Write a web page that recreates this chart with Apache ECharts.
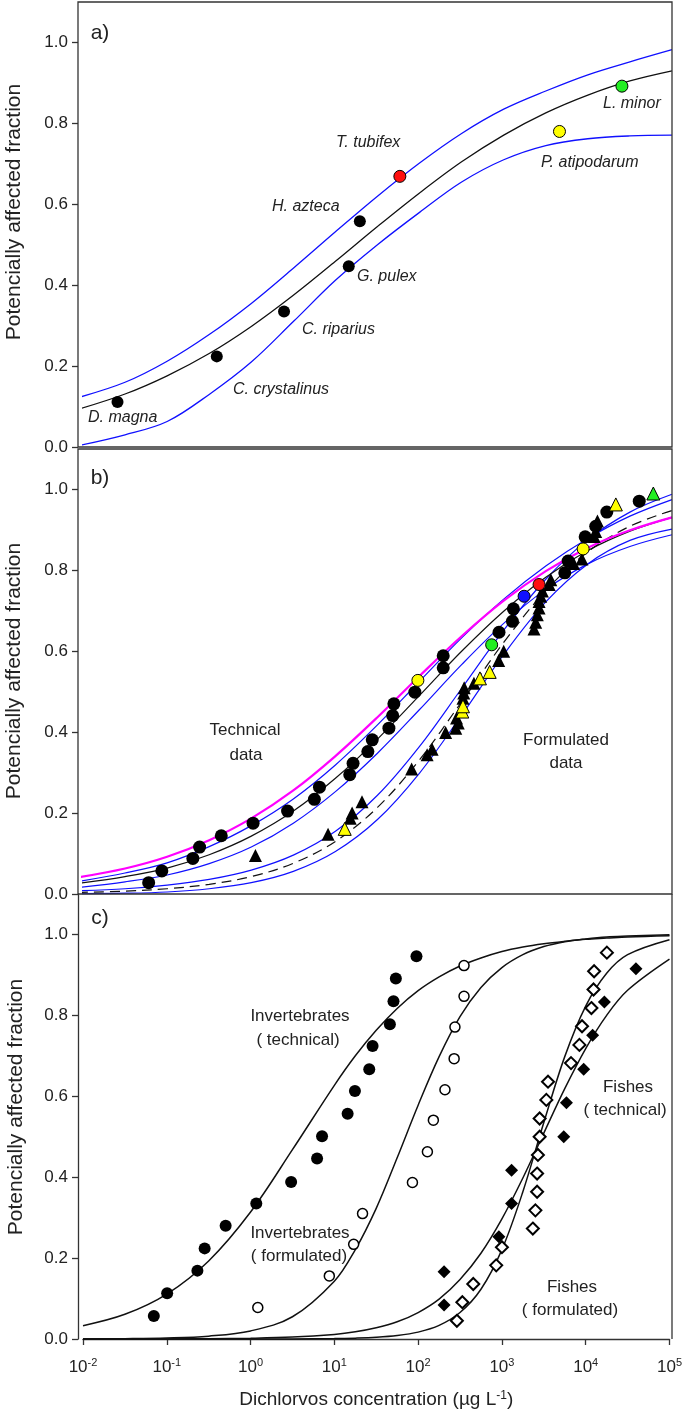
<!DOCTYPE html>
<html><head><meta charset="utf-8">
<script src="https://cdn.jsdelivr.net/npm/echarts@6/dist/echarts.min.js"></script>
<style>html,body{margin:0;padding:0;background:#fff}#c{width:685px;height:1421px}</style>
</head><body><div id="c"></div>
<script>
// ---------- DATA ----------
const yTicks = [0, 0.2, 0.4, 0.6, 0.8, 1.0];
// curve abscissae (µg/L) for panels a and b
const xsAB = [0.00871, 0.0316, 0.1, 0.316, 1, 3.16, 10, 31.6, 100, 316, 1000, 3162, 10000, 31623, 100000];
// panel a
const aFitY   = [0.093, 0.131, 0.176, 0.231, 0.298, 0.375, 0.459, 0.545, 0.628, 0.705, 0.771, 0.826, 0.870, 0.905, 0.930];
const aUpperY = [0.122, 0.160, 0.212, 0.278, 0.355, 0.442, 0.532, 0.620, 0.702, 0.775, 0.835, 0.880, 0.920, 0.952, 0.982];
const aLowerY = [0.003, 0.030, 0.063, 0.130, 0.210, 0.310, 0.412, 0.500, 0.580, 0.655, 0.710, 0.745, 0.762, 0.769, 0.771];
const aSpecies = ['D. magna', 'C. crystalinus', 'C. riparius', 'G. pulex', 'H. azteca', 'T. tubifex', 'P. atipodarum', 'L. minor'];
const aConc = [0.0257, 0.389, 2.45, 14.4, 19.5, 58.3, 4600, 25400];
const aPAF  = [0.111, 0.224, 0.335, 0.447, 0.558, 0.669, 0.780, 0.892];
// panel b curves
const bMagentaY = [0.041, 0.063, 0.092, 0.133, 0.187, 0.256, 0.341, 0.437, 0.539, 0.637, 0.725, 0.798, 0.856, 0.899, 0.931];
const bTechFitY = [0.026, 0.043, 0.064, 0.097, 0.143, 0.205, 0.286, 0.383, 0.491, 0.600, 0.699, 0.783, 0.849, 0.897, 0.931];
const bTechUpY  = [0.031, 0.052, 0.077, 0.117, 0.169, 0.235, 0.319, 0.418, 0.526, 0.633, 0.729, 0.811, 0.879, 0.934, 0.975];
const bTechLoY  = [0.016, 0.030, 0.047, 0.075, 0.116, 0.175, 0.253, 0.348, 0.456, 0.567, 0.669, 0.753, 0.816, 0.859, 0.888];
const bFormFitY = [0.004, 0.007, 0.013, 0.024, 0.043, 0.076, 0.130, 0.214, 0.332, 0.475, 0.622, 0.750, 0.846, 0.909, 0.948];
const bFormUpY  = [0.008, 0.013, 0.022, 0.036, 0.059, 0.096, 0.155, 0.244, 0.365, 0.508, 0.652, 0.778, 0.876, 0.944, 0.988];
const bFormLoY  = [0.001, 0.002, 0.005, 0.013, 0.028, 0.056, 0.105, 0.184, 0.299, 0.442, 0.592, 0.722, 0.816, 0.874, 0.902];
// panel b points
const bTechConc = [0.0603, 0.0865, 0.202, 0.243, 0.440, 1.05, 2.70, 5.62, 6.46, 14.8, 16.2, 24.3, 27.4, 43.2, 47.9, 49.5, 87.9, 191, 191, 879, 1268, 1303, 5320, 5830, 9290, 12400, 16800, 40800];
const bTechPAF  = [0.028, 0.057, 0.088, 0.116, 0.144, 0.175, 0.205, 0.234, 0.264, 0.295, 0.323, 0.352, 0.381, 0.410, 0.441, 0.470, 0.499, 0.559, 0.589, 0.647, 0.674, 0.705, 0.794, 0.823, 0.883, 0.909, 0.944, 0.971];
const bYellowCircConc = [95.5, 8790], bYellowCircPAF = [0.528, 0.853];
const bGreenCircConc = [719], bGreenCircPAF = [0.616];
const bBlueCircConc = [1746], bBlueCircPAF = [0.736];
const bRedCircConc = [2630], bRedCircPAF = [0.765];
const bFormConc = [1.12, 8.18, 15.0, 15.8, 20.7, 80.4, 123, 141, 204, 269, 288, 275, 328, 335, 339, 443, 871, 1000, 2290, 2400, 2510, 2630, 2630, 2750, 2880, 3470, 3630, 6760, 8510, 11900, 12400, 13000];
const bFormPAF  = [0.095, 0.148, 0.187, 0.200, 0.228, 0.309, 0.344, 0.358, 0.399, 0.410, 0.423, 0.435, 0.484, 0.497, 0.510, 0.521, 0.577, 0.600, 0.655, 0.672, 0.690, 0.707, 0.723, 0.736, 0.749, 0.765, 0.777, 0.817, 0.828, 0.884, 0.896, 0.922];
const bYellowTriConc = [12.9, 322, 328, 522, 681, 21500], bYellowTriPAF = [0.161, 0.451, 0.464, 0.533, 0.549, 0.963];
const bGreenTriConc = [60000], bGreenTriPAF = [0.990];
// panel c curves
const xsC = [0.01, 0.0316, 0.1, 0.316, 1, 3.16, 10, 17.8, 31.6, 56.2, 100, 178, 316, 562, 1000, 1778, 3162, 5623, 10000, 17783, 31623, 100000];
const cInvTechY  = [0.033, 0.061, 0.111, 0.193, 0.314, 0.468, 0.627, 0.700, 0.763, 0.817, 0.861, 0.895, 0.922, 0.942, 0.958, 0.969, 0.977, 0.983, 0.988, 0.991, 0.994, 0.997];
const cInvFormY  = [0.0003, 0.0009, 0.0025, 0.0071, 0.020, 0.055, 0.143, 0.221, 0.323, 0.448, 0.578, 0.698, 0.797, 0.869, 0.918, 0.950, 0.970, 0.982, 0.989, 0.994, 0.996, 0.999];
const cFishTechY = [0.0001, 0.0001, 0.0003, 0.0008, 0.0019, 0.0047, 0.0114, 0.0177, 0.0276, 0.0425, 0.0654, 0.0986, 0.147, 0.212, 0.297, 0.398, 0.509, 0.619, 0.718, 0.800, 0.862, 0.939];
const cFishFormY = [0, 0, 0, 0, 0.0001, 0.0003, 0.001, 0.0021, 0.0042, 0.0085, 0.017, 0.0336, 0.0654, 0.123, 0.221, 0.364, 0.535, 0.698, 0.823, 0.904, 0.950, 0.987];
// panel c points
const cInvTechConc = [0.070, 0.101, 0.232, 0.283, 0.504, 1.17, 3.05, 6.22, 7.13, 14.4, 17.6, 26.1, 28.6, 46.0, 50.8, 54.2, 95.5];
const cInvTechPAF  = [0.057, 0.113, 0.169, 0.224, 0.280, 0.335, 0.388, 0.446, 0.501, 0.557, 0.613, 0.667, 0.724, 0.778, 0.835, 0.891, 0.946];
const cInvFormConc = [1.22, 8.71, 17.0, 21.7, 85.5, 129, 152, 209, 269, 275, 353, 353];
const cInvFormPAF  = [0.078, 0.156, 0.234, 0.310, 0.387, 0.463, 0.541, 0.616, 0.693, 0.771, 0.847, 0.923];
const cFishTechConc = [204, 204, 920, 1303, 1303, 5470, 5890, 9460, 12100, 16700, 39800];
const cFishTechPAF  = [0.084, 0.166, 0.253, 0.335, 0.417, 0.500, 0.584, 0.667, 0.751, 0.833, 0.915];
const cFishFormConc = [290, 337, 455, 855, 1000, 2340, 2510, 2630, 2630, 2690, 2820, 2820, 3390, 3550, 6680, 8410, 9040, 11700, 12400, 12600, 17900];
const cFishFormPAF  = [0.045, 0.091, 0.136, 0.182, 0.227, 0.273, 0.318, 0.364, 0.409, 0.455, 0.500, 0.545, 0.591, 0.636, 0.682, 0.727, 0.773, 0.818, 0.864, 0.909, 0.955];

// ---------- CHART ----------
const FONT = '"Liberation Sans", Arial, sans-serif';
const TXT = '#222';
const pts = (xs, ys) => xs.map((x, i) => [x, ys[i]]);
const line = (g, xs, ys, color, width, type) => ({
  type: 'line', xAxisIndex: g, yAxisIndex: g, data: pts(xs, ys), showSymbol: false,
  smooth: 0.35, clip: false, silent: true, z: 2,
  lineStyle: { color: color, width: width, type: type || 'solid' }
});
const scat = (g, xs, ys, symbol, size, fill, border, bw) => ({
  type: 'scatter', xAxisIndex: g, yAxisIndex: g, data: pts(xs, ys), symbol: symbol,
  symbolSize: size, silent: true, z: 3,
  itemStyle: { color: fill, borderColor: border || fill, borderWidth: bw || 0, opacity: 1 }
});
const pick = (arr, idx) => idx.map(i => arr[i]);

const grids = [
  { left: 83, right: 13, top: 2, height: 445 },
  { left: 83, right: 13, top: 449, height: 445 },
  { left: 83, right: 13, top: 894, height: 445 }
];
const xAxes = [0, 1, 2].map(g => ({
  type: 'log', logBase: 10, gridIndex: g, min: 0.01, max: 100000,
  show: g === 2, splitLine: { show: false },
  axisLine: { show: true, lineStyle: { color: '#333', width: 1.3 } },
  axisTick: { show: true, inside: false, length: 6, lineStyle: { color: '#333', width: 1.3 } },
  minorTick: { show: false },
  axisLabel: {
    margin: 18, color: TXT,
    formatter: v => '{b|10}{s|' + Math.round(Math.log10(v)) + '}',
    rich: {
      b: { fontSize: 17, fontFamily: FONT, color: TXT, lineHeight: 20 },
      s: { fontSize: 11, fontFamily: FONT, color: TXT, verticalAlign: 'top', lineHeight: 12 }
    }
  },
  name: g === 2 ? 'Dichlorvos concentration (µg L{s|-1})' : '',
  nameLocation: 'middle', nameGap: 51,
  nameTextStyle: {
    fontSize: 19, fontFamily: FONT, color: TXT,
    rich: { s: { fontSize: 12, fontFamily: FONT, color: TXT, verticalAlign: 'top', lineHeight: 12 } }
  }
}));
const yAxes = [0, 1, 2].map(g => ({
  type: 'value', gridIndex: g, min: 0, max: 1.1, interval: 0.2, offset: 5,
  splitLine: { show: false },
  axisLine: { show: g === 2, lineStyle: { color: '#333', width: 1.3 } },
  axisTick: { show: true, length: 6, customValues: yTicks, lineStyle: { color: '#333', width: 1.3 } },
  axisLabel: { customValues: yTicks, margin: 10, fontSize: 17, fontFamily: FONT, color: TXT,
    formatter: v => v.toFixed(1) }
}));

const BLUE = '#1010ff';
const series = [
  // panel a
  line(0, xsAB, aUpperY, BLUE, 1.3),
  line(0, xsAB, aLowerY, BLUE, 1.3),
  line(0, xsAB, aFitY, '#111', 1.3),
  scat(0, pick(aConc, [0, 1, 2, 3, 4]), pick(aPAF, [0, 1, 2, 3, 4]), 'circle', 12, '#000'),
  scat(0, pick(aConc, [5]), pick(aPAF, [5]), 'circle', 12, '#ff1010', '#000', 1),
  scat(0, pick(aConc, [6]), pick(aPAF, [6]), 'circle', 12, '#ffff00', '#000', 1),
  scat(0, pick(aConc, [7]), pick(aPAF, [7]), 'circle', 12, '#22ee22', '#000', 1),
  // panel b
  line(1, xsAB, bFormUpY, BLUE, 1.2),
  line(1, xsAB, bFormLoY, BLUE, 1.2),
  line(1, xsAB, bFormFitY, '#111', 1.2, [10, 6]),
  line(1, xsAB, bTechUpY, BLUE, 1.2),
  line(1, xsAB, bTechLoY, BLUE, 1.2),
  line(1, xsAB, bTechFitY, '#111', 1.2),
  line(1, xsAB, bMagentaY, '#ff00ff', 2.2),
  scat(1, bFormConc, bFormPAF, 'triangle', 13, '#000'),
  scat(1, bTechConc, bTechPAF, 'circle', 13, '#000'),
  scat(1, bYellowTriConc, bYellowTriPAF, 'triangle', 13, '#ffff00', '#000', 1),
  scat(1, bGreenTriConc, bGreenTriPAF, 'triangle', 13, '#22ee22', '#000', 1),
  scat(1, bYellowCircConc, bYellowCircPAF, 'circle', 12, '#ffff00', '#000', 1),
  scat(1, bGreenCircConc, bGreenCircPAF, 'circle', 12, '#22ee22', '#000', 1),
  scat(1, bBlueCircConc, bBlueCircPAF, 'circle', 12, '#1010ff', '#000', 1),
  scat(1, bRedCircConc, bRedCircPAF, 'circle', 12, '#ff1010', '#000', 1),
  // panel c
  line(2, xsC, cInvTechY, '#111', 1.5),
  line(2, xsC, cInvFormY, '#111', 1.5),
  line(2, xsC, cFishTechY, '#111', 1.5),
  line(2, xsC, cFishFormY, '#111', 1.5),
  scat(2, cInvTechConc, cInvTechPAF, 'circle', 12, '#000'),
  scat(2, cInvFormConc, cInvFormPAF, 'circle', 10, '#fff', '#000', 1.5),
  scat(2, cFishTechConc, cFishTechPAF, 'diamond', 13, '#000'),
  scat(2, cFishFormConc, cFishFormPAF, 'diamond', 12, '#fff', '#000', 2)
];

const t = (x, y, text, opts) => Object.assign({
  type: 'text', x: x, y: y, silent: true, z: 10,
  style: Object.assign({ text: text, fill: TXT, font: '17px ' + FONT, textAlign: 'center', textVerticalAlign: 'middle' }, (opts && opts.style) || {})
}, (opts && opts.el) || {});
const it = (x, y, text) => t(x, y, text, { style: { font: 'italic 16px ' + FONT, textAlign: 'left' } });
const graphic = [
  { type: 'rect', shape: { x: 78, y: 2, width: 594, height: 445 }, style: { fill: 'none', stroke: '#333', lineWidth: 1.3 }, silent: true, z: 5 },
  { type: 'rect', shape: { x: 78, y: 449, width: 594, height: 445 }, style: { fill: 'none', stroke: '#333', lineWidth: 1.3 }, silent: true, z: 5 },
  { type: 'line', shape: { x1: 672, y1: 894, x2: 672, y2: 1339 }, style: { stroke: '#333', lineWidth: 1.3 }, silent: true, z: 5 },
  t(100, 33, 'a)', { style: { font: '21px ' + FONT } }),
  t(100, 478, 'b)', { style: { font: '21px ' + FONT } }),
  t(100, 918, 'c)', { style: { font: '21px ' + FONT } }),
  t(14, 212, 'Potencially affected fraction', { style: { font: '21px ' + FONT }, el: { rotation: Math.PI / 2 } }),
  t(14, 671, 'Potencially affected fraction', { style: { font: '21px ' + FONT }, el: { rotation: Math.PI / 2 } }),
  t(16, 1107, 'Potencially affected fraction', { style: { font: '21px ' + FONT }, el: { rotation: Math.PI / 2 } }),
  it(88, 418, aSpecies[0]),
  it(233, 390, aSpecies[1]),
  it(302, 330, aSpecies[2]),
  it(357, 277, aSpecies[3]),
  it(272, 207, aSpecies[4]),
  it(336, 143, aSpecies[5]),
  it(541, 163, aSpecies[6]),
  it(603, 104, aSpecies[7]),
  t(245, 730, 'Technical'), t(246, 755, 'data'),
  t(566, 740, 'Formulated'), t(566, 763, 'data'),
  t(300, 1016, 'Invertebrates'), t(298, 1040, '( technical)'),
  t(300, 1233, 'Invertebrates'), t(299, 1256, '( formulated)'),
  t(628, 1087, 'Fishes'), t(625, 1110, '( technical)'),
  t(572, 1287, 'Fishes'), t(570, 1310, '( formulated)')
];

const chart = echarts.init(document.getElementById('c'), null, { renderer: 'canvas' });
chart.setOption({
  animation: false,
  backgroundColor: '#fff',
  textStyle: { fontFamily: FONT },
  grid: grids, xAxis: xAxes, yAxis: yAxes, series: series, graphic: graphic
});
</script></body></html>
